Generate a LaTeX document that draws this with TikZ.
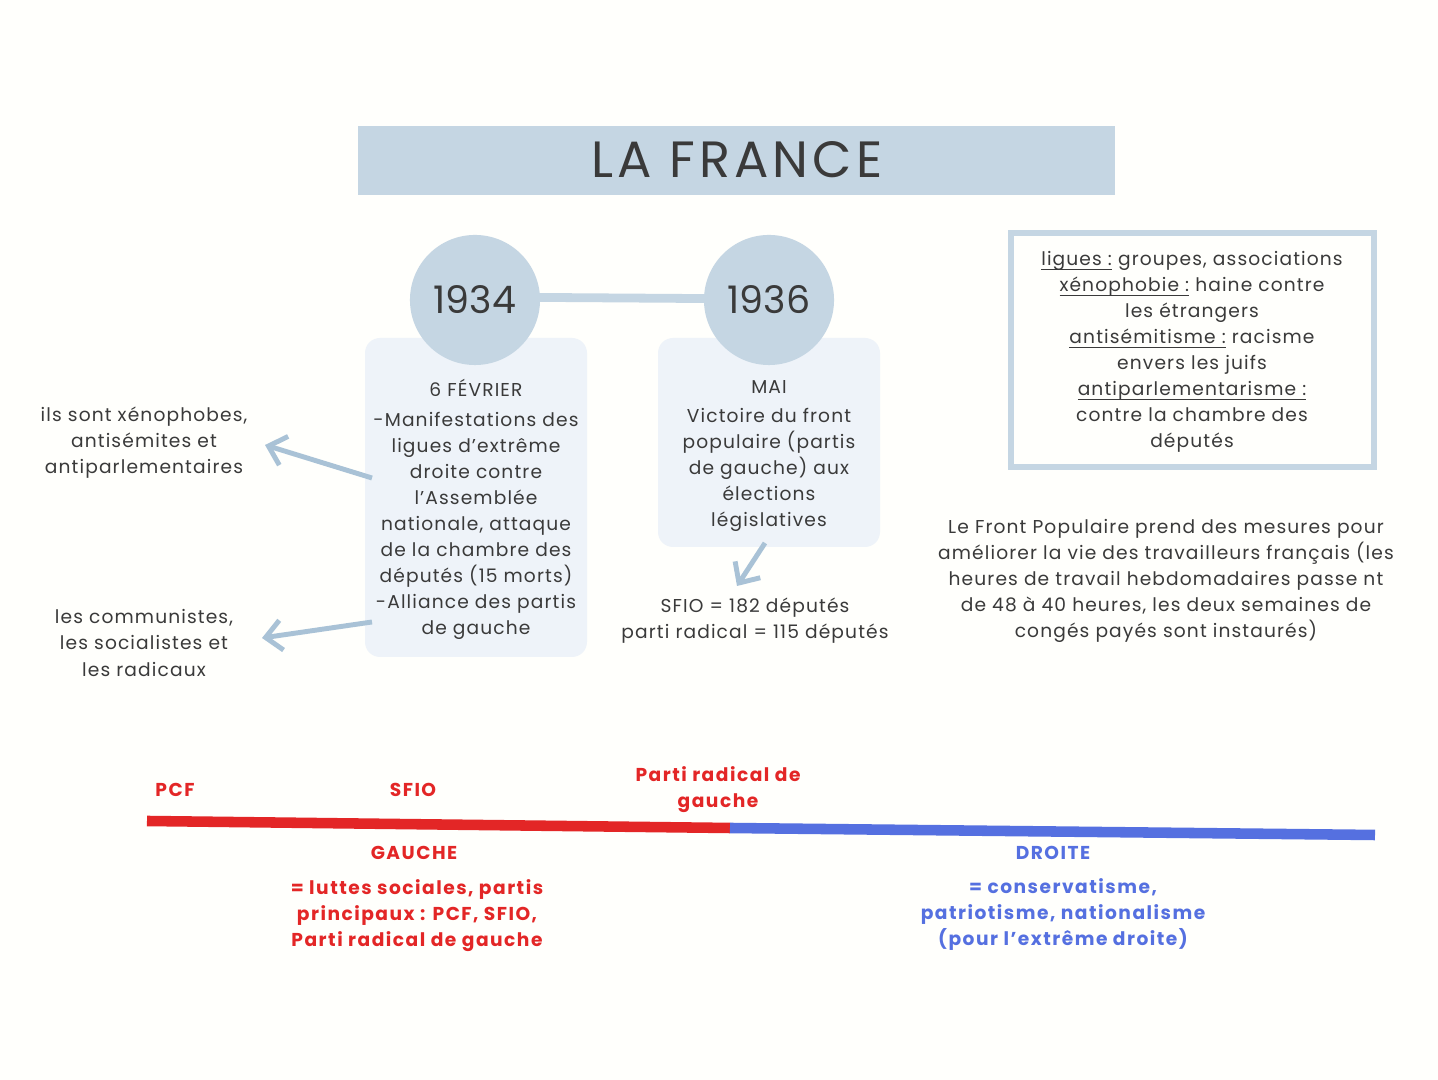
\documentclass[tikz,border=0pt]{standalone}
\usepackage{fontspec}
\setmainfont{Poppins}
\usetikzlibrary{arrows.meta}
\definecolor{pale}{HTML}{C5D6E3}
\definecolor{boxbg}{HTML}{EEF3F9}
\definecolor{txt}{HTML}{3A3A3A}
\definecolor{rouge}{HTML}{E32626}
\definecolor{bleu}{HTML}{5570E0}
\definecolor{arr}{HTML}{A9C2D6}
\newcommand\ulx[1]{\leavevmode\setbox0\hbox{#1}\rlap{\rule[-1.3pt]{\wd0}{0.3pt}}\box0\relax}
\tikzset{
 body/.style={text=txt,font=\fontsize{5.3}{7.4}\selectfont\addfontfeatures{LetterSpace=6},align=center,inner sep=0pt},
 year/.style={circle,fill=pale,minimum size=1.3cm,inner sep=0pt,text=txt,font=\fontsize{10.8}{12}\selectfont},
 pbox/.style={fill=boxbg,rounded corners=0.15cm},
 pa/.style={draw=arr,line width=1.4pt,-{Straight Barb[length=1.6mm,width=3mm]}},
 redt/.style={body,text=rouge,font=\fontsize{5.3}{7.4}\selectfont\bfseries\addfontfeatures{LetterSpace=8}},
 bluet/.style={body,text=bleu,font=\fontsize{5.3}{7.4}\selectfont\bfseries\addfontfeatures{LetterSpace=8}}
}
\begin{document}
\begin{tikzpicture}[x=0.01cm,y=-0.01cm]
\useasboundingbox[fill=white!99!yellow] (0,0) rectangle (1438,1080);
\fill[pale] (358,126) rectangle (1115,195);
\node[text=txt,font=\fontsize{14.5}{16}\selectfont\addfontfeatures{LetterSpace=8}] (title) at (737,160) {LA FRANCE};
\fill[pbox] (365,338) rectangle (587,657);
\fill[pbox] (658,338) rectangle (880,547);
\draw[pale,line width=2.5pt] (475,297) -- (769,299);
\node[year] (y1) at (475,300) {1934};
\node[year] (y2) at (769,300) {1936};
\node[body] (d1) at (476,388) {6 FÉVRIER};
\node[body] (t1) at (476,526) {-Manifestations des\\ligues d'extrême\\droite contre\\l'Assemblée\\nationale, attaque\\de la chambre des\\députés (15 morts)\\-Alliance des partis\\de gauche};
\node[body] (d2) at (769,387) {MAI};
\node[body] (t2) at (769,470) {Victoire du front\\populaire (partis\\de gauche) aux\\élections\\législatives};
\node[body] (res) at (755,621) {SFIO = 182 députés\\parti radical = 115 députés};
\node[body] (l1) at (144,443) {ils sont xénophobes,\\antisémites et\\antiparlementaires};
\node[body] (l2) at (144,643) {les communistes,\\les socialistes et\\les radicaux};
\coordinate (a1) at (372,478); \coordinate (a2) at (372,622); \coordinate (a3) at (765,543);
\draw[pa] (a1) -- (265,445);
\draw[pa] (a2) -- (262,638);
\draw[pa] (a3) -- (737,586);
\draw[pale,line width=1.5pt] (1011,233) rectangle (1374,467);
\node[body] (def) at (1192,352) {\ulx{ligues :} groupes, associations\\\ulx{xénophobie :} haine contre\\les étrangers\\\ulx{antisémitisme :} racisme\\envers les juifs\\\ulx{antiparlementarisme :}\\contre la chambre des\\députés};
\node[body] (fp) at (1166,581) {Le Front Populaire prend des mesures pour\\améliorer la vie des travailleurs français (les\\heures de travail hebdomadaires passe nt\\de 48 à 40 heures, les deux semaines de\\congés payés sont instaurés)};
\coordinate (r0) at (147,821); \coordinate (m) at (730,828); \coordinate (b1) at (1375,835);
\draw[rouge,line width=3pt] (r0) -- (m);
\draw[bleu,line width=3pt] (m) -- (b1);
\node[redt] (pcf) at (175,790) {PCF};
\node[redt] (sfio) at (413,790) {SFIO};
\node[redt] (prg) at (718,790) {Parti radical de\\gauche};
\node[redt] (g) at (414,853) {GAUCHE};
\node[redt] (gt) at (417,916) {= luttes sociales, partis\\principaux : PCF, SFIO,\\Parti radical de gauche};
\node[bluet] (d) at (1053,853) {DROITE};
\node[bluet] (dt) at (1063,915) {= conservatisme,\\patriotisme, nationalisme\\(pour l'extrême droite)};
\end{tikzpicture}
\end{document}
